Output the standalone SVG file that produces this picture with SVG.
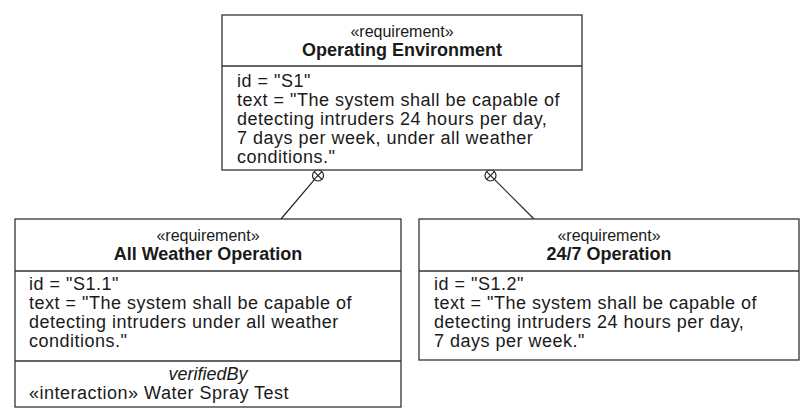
<svg xmlns="http://www.w3.org/2000/svg" width="809" height="415" viewBox="0 0 809 415">
<defs>
<style>
.box{fill:#fff;stroke:#333;stroke-width:1.3}
.div{stroke:#333;stroke-width:1.3}
.st{font-family:"Liberation Sans",Arial,sans-serif;font-size:16px;fill:#1a1a1a;text-anchor:middle}
.nm{font-family:"Liberation Sans",Arial,sans-serif;font-size:18px;font-weight:bold;fill:#1a1a1a;text-anchor:middle}
.tx{font-family:"Liberation Sans",Arial,sans-serif;font-size:18px;letter-spacing:0.5px;fill:#1a1a1a}
.it{font-family:"Liberation Sans",Arial,sans-serif;font-size:18px;font-style:italic;fill:#1a1a1a;text-anchor:middle}
.con{stroke:#222;stroke-width:1.2;fill:none}
.ring{stroke:#222;stroke-width:1.2;fill:#fff}
</style>
</defs>
<rect width="809" height="415" fill="#fff"/>
<g id="connectors">
  <g id="c1">
    <line class="con" x1="314.4" y1="179.7" x2="281" y2="219"/>
    <circle class="ring" cx="318" cy="175.5" r="5.5"/>
    <line class="con" x1="314.1" y1="171.6" x2="321.9" y2="179.4"/>
    <line class="con" x1="321.9" y1="171.6" x2="314.1" y2="179.4"/>
  </g>
  <g id="c2">
    <line class="con" x1="494.4" y1="179.4" x2="534" y2="219"/>
    <circle class="ring" cx="490.5" cy="175.5" r="5.5"/>
    <line class="con" x1="486.6" y1="171.6" x2="494.4" y2="179.4"/>
    <line class="con" x1="494.4" y1="171.6" x2="486.6" y2="179.4"/>
  </g>
</g>
<g id="operating-environment">
  <rect class="box" x="222" y="15" width="360" height="155"/>
  <line class="div" x1="222" y1="66" x2="582" y2="66"/>
  <text class="st" x="402" y="37">«requirement»</text>
  <text class="nm" x="402" y="56">Operating Environment</text>
  <text class="tx" x="237" y="87">id = "S1"</text>
  <text class="tx" x="237" y="106">text = "The system shall be capable of</text>
  <text class="tx" x="237" y="125">detecting intruders 24 hours per day,</text>
  <text class="tx" x="237" y="144">7 days per week, under all weather</text>
  <text class="tx" x="237" y="163">conditions."</text>
</g>
<g id="all-weather-operation">
  <rect class="box" x="15" y="219" width="386" height="188"/>
  <line class="div" x1="15" y1="271" x2="401" y2="271"/>
  <line class="div" x1="15" y1="361" x2="401" y2="361"/>
  <text class="st" x="208" y="241">«requirement»</text>
  <text class="nm" x="208" y="260">All Weather Operation</text>
  <text class="tx" x="29" y="290">id = "S1.1"</text>
  <text class="tx" x="29" y="309">text = "The system shall be capable of</text>
  <text class="tx" x="29" y="328">detecting intruders under all weather</text>
  <text class="tx" x="29" y="347">conditions."</text>
  <text class="it" x="208" y="380">verifiedBy</text>
  <text class="tx" x="29" y="399">«interaction» Water Spray Test</text>
</g>
<g id="operation-24-7">
  <rect class="box" x="419" y="219" width="380" height="141"/>
  <line class="div" x1="419" y1="271" x2="799" y2="271"/>
  <text class="st" x="609" y="241">«requirement»</text>
  <text class="nm" x="609" y="260">24/7 Operation</text>
  <text class="tx" x="434" y="290">id = "S1.2"</text>
  <text class="tx" x="434" y="309">text = "The system shall be capable of</text>
  <text class="tx" x="434" y="328">detecting intruders 24 hours per day,</text>
  <text class="tx" x="434" y="347">7 days per week."</text>
</g>
</svg>
